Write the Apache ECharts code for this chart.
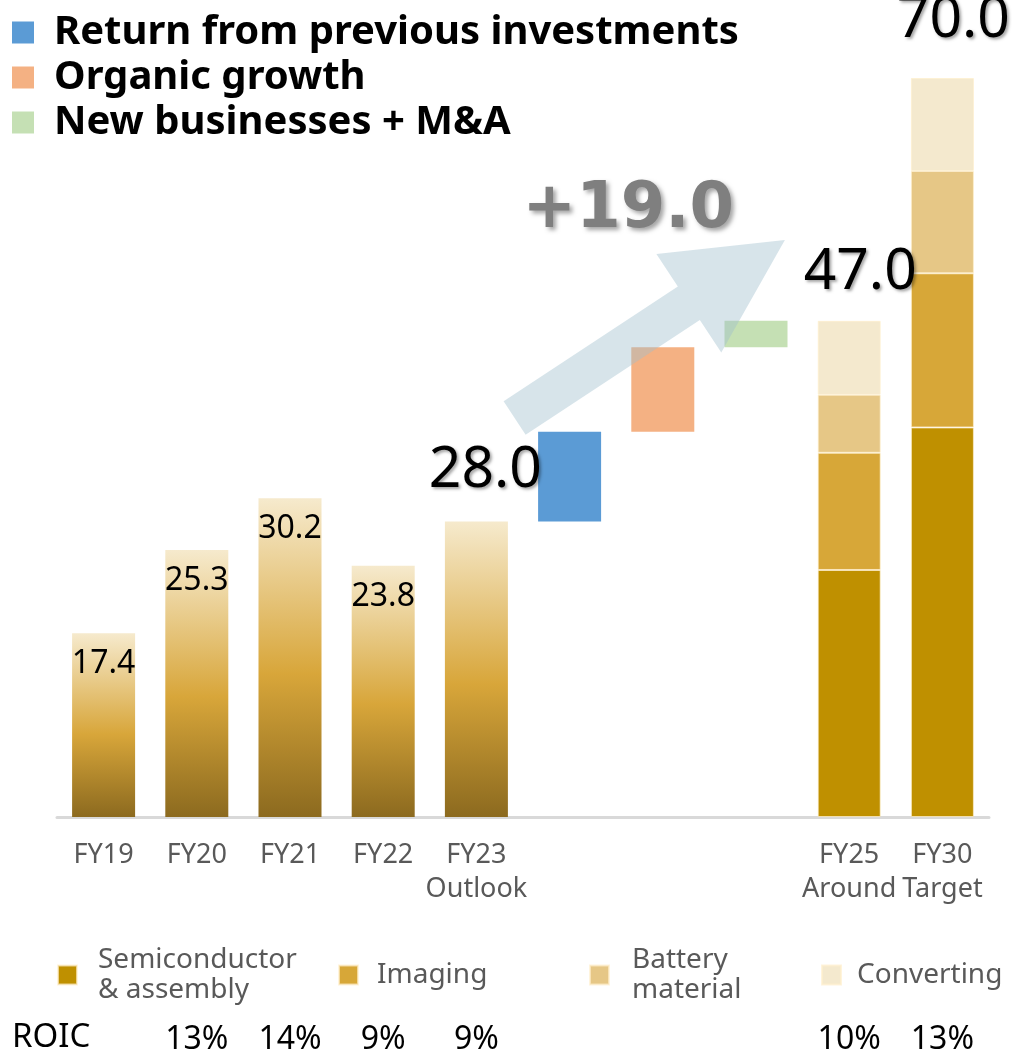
<!DOCTYPE html>
<html>
<head>
<meta charset="utf-8">
<script src="https://cdn.jsdelivr.net/npm/echarts@6/dist/echarts.min.js"></script>
<style>
  html, body { margin: 0; padding: 0; background: #fff; }
  #chart { width: 1017px; height: 1051px; }
</style>
</head>
<body>
<div id="chart"></div>
<script>
// categories on the x axis (gaps are the bridge columns)
const categories = ['FY19', 'FY20', 'FY21', 'FY22', 'FY23', 'B1', 'B2', 'B3', 'FY25', 'FY30'];
const axisLabels = ['FY19', 'FY20', 'FY21', 'FY22', 'FY23\nOutlook', '', '', '', 'FY25\nAround', 'FY30\nTarget'];

// actuals FY19..FY23
const history = [17.4, 25.3, 30.2, 23.8, 28.0];

// bridge FY23 -> FY25
const bridgeNames = ['Return from previous investments', 'Organic growth', 'New businesses + M&A'];
const bridgeValues = [8.5, 8.0, 2.5];
const bridgeLabel = '+19.0';

// FY25 / FY30 by segment
const segmentNames = ['Semiconductor\n& assembly', 'Imaging', 'Battery\nmaterial', 'Converting'];
const semiconductor = [23.4, 36.9];
const imaging = [11.1, 14.6];
const battery = [5.5, 9.7];
const converting = [7.0, 8.8];

const roic = ['', '13%', '14%', '9%', '9%', '', '', '', '10%', '13%'];

// arrow from/to in [x index, value]
const arrowFrom = [4.41, 37.8];
const arrowTo = [7.31, 54.65];
const arrowLabelAt = [5.63, 57.5];

const FONT = 'Noto Sans';
const bridgeColors = ['#5B9BD5', '#F4B183', '#C5E0B4'];
const segmentColors = ['#BF9000', '#D7A738', '#E6C786', '#F4E9CE'];

const pad = (n) => Array(n).fill('-');
const shadow = {
    textShadowColor: 'rgba(0,0,0,0.35)',
    textShadowBlur: 3,
    textShadowOffsetX: 2,
    textShadowOffsetY: 2
};

// historic bars
const histData = history.map((v, i) => {
    if (i === history.length - 1) {
        return {
            value: v,
            label: Object.assign({
                position: 'top', distance: 22, offset: [9, 0], fontSize: 57
            }, shadow)
        };
    }
    return v;
}).concat(pad(5));

// waterfall
const baseData = pad(5);
let run = history[history.length - 1];
bridgeValues.forEach((v) => { baseData.push(run); run += v; });
baseData.push('-', '-');

const bridgeSeries = bridgeNames.map((name, k) => {
    const d = pad(10);
    d[5 + k] = bridgeValues[k];
    return {
        name: name,
        type: 'bar',
        stack: 'all',
        itemStyle: { color: bridgeColors[k] },
        data: d
    };
});

const segArrays = [semiconductor, imaging, battery, converting];
const totals = [0, 1].map((j) => segArrays.reduce((s, a) => s + a[j], 0));
const labelDist = [20, 29];

const segmentSeries = segmentNames.map((name, k) => {
    const d = pad(8).concat(segArrays[k].map((v, j) => {
        if (k === segArrays.length - 1) {
            return {
                value: v,
                label: Object.assign({
                    show: true,
                    position: 'top',
                    distance: labelDist[j],
                    offset: [11, 0],
                    fontSize: 57,
                    fontFamily: FONT,
                    color: '#000',
                    formatter: () => totals[j].toFixed(1)
                }, shadow)
            };
        }
        return v;
    }));
    return {
        name: name,
        type: 'bar',
        stack: 'all',
        itemStyle: {
            color: segmentColors[k],
            borderColor: 'rgba(255,240,205,0.7)',
            borderWidth: 1
        },
        data: d
    };
});

function legendFor(name, left, top, gap) {
    return {
        data: [name],
        left: left,
        top: top,
        padding: 0,
        icon: 'rect',
        itemWidth: 19,
        itemHeight: 19,
        selectedMode: false,
        textStyle: {
            fontFamily: FONT,
            fontSize: 28,
            lineHeight: 30,
            color: '#595959',
            padding: [0, 0, 0, gap]
        }
    };
}

const chart = echarts.init(document.getElementById('chart'));

chart.setOption({
    animation: false,
    textStyle: { fontFamily: FONT },
    grid: {
        left: 57, right: 28, top: 78, bottom: 234,
        containLabel: false,
        outerBoundsMode: 'none'
    },
    legend: [
        {
            data: bridgeNames,
            orient: 'vertical',
            left: 12,
            top: 10,
            padding: 0,
            icon: 'rect',
            itemWidth: 22,
            itemHeight: 22,
            itemGap: 0,
            selectedMode: false,
            textStyle: {
                fontFamily: FONT,
                fontWeight: 'bold',
                fontSize: 40,
                lineHeight: 45,
                color: '#000',
                padding: [0, 0, 0, 15]
            }
        },
        legendFor(segmentNames[0], 57, 945, 16),
        legendFor(segmentNames[1], 338, 960, 14),
        legendFor(segmentNames[2], 589, 945, 18),
        legendFor(segmentNames[3], 821, 960, 11)
    ],
    xAxis: [
        {
            type: 'category',
            data: categories,
            axisLine: { lineStyle: { color: '#D9D9D9', width: 3 } },
            axisTick: { show: false },
            axisLabel: {
                interval: 0,
                margin: 21,
                fontFamily: FONT,
                fontSize: 27,
                lineHeight: 34,
                color: '#595959',
                formatter: (v, i) => axisLabels[i]
            }
        },
        {
            type: 'value',
            min: -0.5,
            max: 9.5,
            show: false
        },
        {
            type: 'category',
            data: categories,
            position: 'bottom',
            offset: 195,
            axisLine: { show: false },
            axisTick: { show: false },
            axisLabel: {
                interval: 0,
                margin: 12,
                fontFamily: FONT,
                fontSize: 32,
                color: '#000',
                formatter: (v, i) => roic[i]
            }
        }
    ],
    yAxis: {
        type: 'value',
        min: 0,
        max: 70,
        show: false
    },
    graphic: [{
        type: 'text',
        left: 12,
        top: 1021,
        style: { text: 'ROIC', fontFamily: FONT, fontSize: 33, fill: '#000' }
    }],
    series: [
        {
            name: 'history',
            type: 'bar',
            stack: 'all',
            barWidth: 63,
            itemStyle: {
                color: new echarts.graphic.LinearGradient(0, 0, 0, 1, [
                    { offset: 0, color: '#F6EACD' },
                    { offset: 0.55, color: '#D8A63A' },
                    { offset: 1, color: '#8C6A1F' }
                ])
            },
            label: {
                show: true,
                position: 'insideTop',
                distance: 15,
                fontFamily: FONT,
                fontSize: 32,
                color: '#000',
                formatter: (p) => Number(p.value).toFixed(1)
            },
            data: histData
        },
        {
            name: 'base',
            type: 'bar',
            stack: 'all',
            itemStyle: { color: 'transparent' },
            data: baseData
        }
    ].concat(bridgeSeries, segmentSeries, [
        {
            name: 'arrow',
            type: 'custom',
            xAxisIndex: 1,
            yAxisIndex: 0,
            z: 5,
            silent: true,
            data: [arrowFrom.concat(arrowTo, arrowLabelAt)],
            encode: { x: [0, 2, 4], y: [1, 3, 5] },
            renderItem(params, api) {
                const p0 = api.coord([api.value(0), api.value(1)]);
                const p1 = api.coord([api.value(2), api.value(3)]);
                const pl = api.coord([api.value(4), api.value(5)]);
                const dx = p1[0] - p0[0];
                const dy = p1[1] - p0[1];
                const len = Math.sqrt(dx * dx + dy * dy);
                const ux = dx / len, uy = dy / len;
                const nx = -uy, ny = ux;
                const sw = 20, hw = 59, hl = 115;
                const bx = p1[0] - ux * hl, by = p1[1] - uy * hl;
                const pts = [
                    [p0[0] + nx * sw, p0[1] + ny * sw],
                    [bx + nx * sw, by + ny * sw],
                    [bx + nx * hw, by + ny * hw],
                    [p1[0], p1[1]],
                    [bx - nx * hw, by - ny * hw],
                    [bx - nx * sw, by - ny * sw],
                    [p0[0] - nx * sw, p0[1] - ny * sw]
                ];
                return {
                    type: 'group',
                    children: [
                        {
                            type: 'polygon',
                            shape: { points: pts },
                            style: { fill: 'rgba(160,190,205,0.42)' }
                        },
                        {
                            type: 'text',
                            x: pl[0],
                            y: pl[1],
                            style: {
                                text: bridgeLabel,
                                fontFamily: 'DejaVu Sans',
                                fontWeight: 'bold',
                                fontSize: 64,
                                fill: '#7F7F7F',
                                align: 'center',
                                verticalAlign: 'middle',
                                textShadowColor: 'rgba(0,0,0,0.35)',
                                textShadowBlur: 4,
                                textShadowOffsetX: 3,
                                textShadowOffsetY: 3
                            }
                        }
                    ]
                };
            }
        }
    ])
});
</script>
</body>
</html>
